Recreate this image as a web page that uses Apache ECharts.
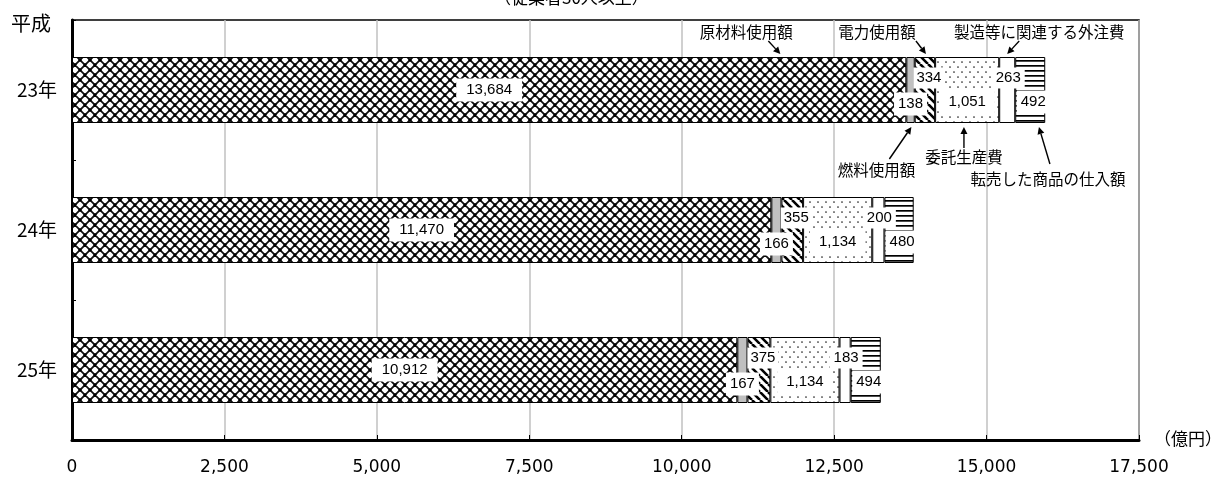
<!DOCTYPE html>
<html><head><meta charset="utf-8">
<script src="https://cdn.jsdelivr.net/npm/echarts@6.0.0/dist/echarts.min.js"></script>
<style>html,body{margin:0;padding:0;background:#fff}#c{width:1220px;height:478px}</style>
</head><body><div id="c"></div>
<script>
// ---- data ----
const categories = ['23年', '24年', '25年'];
const seriesNames = ['原材料使用額', '燃料使用額', '電力使用額', '委託生産費', '製造等に関連する外注費', '転売した商品の仕入額'];
const rawMaterial = [13684, 11470, 10912];
const fuel = [138, 166, 167];
const electricity = [334, 355, 375];
const outsourcedProduction = [1051, 1134, 1134];
const subcontract = [263, 200, 183];
const resale = [492, 480, 494];
const xTickLabels = ['0', '2,500', '5,000', '7,500', '10,000', '12,500', '15,000', '17,500'];
const seriesValues = [rawMaterial, fuel, electricity, outsourcedProduction, subcontract, resale];

// ---- patterns ----
function tile(w, h, draw) {
  const c = document.createElement('canvas');
  c.width = w; c.height = h;
  const g = c.getContext('2d');
  g.fillStyle = '#fff'; g.fillRect(0, 0, w, h);
  draw(g, w, h);
  return c;
}
const crossHatch = tile(10, 10, (g, w, h) => {
  g.strokeStyle = '#111'; g.lineWidth = 1.8;
  g.beginPath();
  for (let k = -1; k <= 1; k++) {
    g.moveTo(k * w, 0); g.lineTo(k * w + w, h);
    g.moveTo(k * w + w, 0); g.lineTo(k * w, h);
  }
  g.stroke();
  g.fillStyle = '#000';
  [[0,0],[10,0],[0,10],[10,10],[5,5]].forEach(p => { g.beginPath(); g.arc(p[0], p[1], 1.7, 0, Math.PI*2); g.fill(); });
});
const stripes = tile(8, 8, (g, w, h) => {
  g.strokeStyle = '#000'; g.lineWidth = 2.6;
  g.beginPath();
  for (let k = -1; k <= 1; k++) { g.moveTo(k * w, 0); g.lineTo(k * w + w, h); }
  g.stroke();
});
const dots = tile(8, 10, (g) => {
  g.fillStyle = '#222';
  [[2,2],[6,7]].forEach(p => { g.beginPath(); g.arc(p[0], p[1], 0.85, 0, Math.PI*2); g.fill(); });
});
const hLines = tile(4, 5, (g) => { g.fillStyle = '#000'; g.fillRect(0, 0, 4, 1.7); });

const fills = [
  { image: crossHatch, repeat: 'repeat' },
  '#c0c0c0',
  { image: stripes, repeat: 'repeat' },
  { image: dots, repeat: 'repeat' },
  '#ffffff',
  { image: hLines, repeat: 'repeat' }
];
const labelOffsets = [[0, 0], [0, 14], [4, -12], [0, 12], [1, -12], [3, 12]];
const labelPadding = [[4, 10], [4, 4], [3, 3], [4, 9], [3, 4], [4, 4]];

const numFont = 'Liberation Sans';
const jpFont = '"Noto Sans CJK JP"';

const series = [];
seriesNames.forEach((name, i) => {
  series.push({
    name, type: 'bar', stack: 'total', barWidth: 66, barGap: '-100%',
    data: seriesValues[i],
    itemStyle: { color: fills[i], borderColor: '#000', borderWidth: 1 },
    silent: true, z: 2
  });
});
seriesNames.forEach((name, i) => {
  series.push({
    name: name + '_label', type: 'bar', stack: 'labels', barWidth: 66, barGap: '-100%',
    data: seriesValues[i],
    itemStyle: { color: 'rgba(0,0,0,0)', borderWidth: 0 },
    silent: true, z: 10,
    label: {
      show: true, position: 'inside', offset: labelOffsets[i],
      backgroundColor: '#fff', padding: labelPadding[i],
      color: '#000', fontSize: 15, fontFamily: numFont,
      formatter: p => p.value.toLocaleString('en-US')
    }
  });
});

const chart = echarts.init(document.getElementById('c'), null, { renderer: 'canvas' });
chart.setOption({
  animation: false,
  backgroundColor: '#fff',
  grid: { left: 72, right: 81, top: 20, bottom: 38, show: true, borderColor: '#000', borderWidth: 1.5, backgroundColor: 'transparent' },
  xAxis: {
    type: 'value', min: 0, max: 17500, interval: 2500,
    axisLine: { show: true, lineStyle: { color: '#000', width: 3 } },
    axisTick: { show: true, inside: true, length: 5, lineStyle: { color: '#000', width: 1 } },
    splitLine: { show: true, lineStyle: { color: '#c0c0c0', width: 1.5 } },
    axisLabel: { fontSize: 17, fontFamily: 'DejaVu Sans', color: '#000', margin: 19,
      formatter: v => xTickLabels[Math.round(v / 2500)] }
  },
  yAxis: {
    type: 'category', inverse: true, data: categories,
    axisLine: { show: true, lineStyle: { color: '#000', width: 3 } },
    axisTick: { show: true, inside: true, length: 4, lineStyle: { color: '#000', width: 1 } },
    axisLabel: { fontSize: 19, fontFamily: jpFont, color: '#000', margin: 15 }
  },
  series
});

// ---- annotations anchored to the 23年 bar ----
const annotations = [
  { text: '原材料使用額', seg: 0, frac: 0.849, side: 'top', tail: [-12, -13], label: [-34, -22] },
  { text: '電力使用額', seg: 2, frac: 0.55, side: 'top', tail: [-10, -13], label: [-49, -22] },
  { text: '製造等に関連する外注費', seg: 4, frac: 0.5, side: 'top', tail: [12, -13], label: [32, -22] },
  { text: '燃料使用額', seg: 1, frac: 0.6, side: 'bottom', tail: [-22, 32], label: [-35, 43] },
  { text: '委託生産費', seg: 3, frac: 0.45, side: 'bottom', tail: [0, 21], label: [0, 30] },
  { text: '転売した商品の仕入額', seg: 5, frac: 0.79, side: 'bottom', tail: [11, 37], label: [9, 52] }
];
const cat = categories[0];
const graphics = [];
annotations.forEach(a => {
  let start = 0;
  for (let s = 0; s < a.seg; s++) start += seriesValues[s][0];
  const v = start + seriesValues[a.seg][0] * a.frac;
  const c = chart.convertToPixel({ gridIndex: 0 }, [v, cat]);
  const tip = [c[0], a.side === 'top' ? c[1] - 33 - 3 : c[1] + 33 + 4];
  const tail = [tip[0] + a.tail[0], tip[1] + a.tail[1]];
  const dx = tip[0] - tail[0], dy = tip[1] - tail[1];
  const len = Math.sqrt(dx * dx + dy * dy);
  const ux = dx / len, uy = dy / len;
  const hl = 7, hw = 3.5;
  const base = [tip[0] - ux * hl, tip[1] - uy * hl];
  graphics.push({ type: 'line', shape: { x1: tail[0], y1: tail[1], x2: base[0], y2: base[1] }, style: { stroke: '#000', lineWidth: 1.4 }, z: 100 });
  graphics.push({ type: 'polygon', shape: { points: [tip, [base[0] - uy * hw, base[1] + ux * hw], [base[0] + uy * hw, base[1] - ux * hw]] }, style: { fill: '#000' }, z: 100 });
  graphics.push({ type: 'text', x: tip[0] + a.label[0], y: tip[1] + a.label[1], style: { text: a.text, font: '15.5px ' + jpFont, fill: '#000', align: 'center', verticalAlign: 'middle' }, z: 100 });
});
graphics.push({ type: 'text', x: 494, y: -2, style: { text: '（従業者30人以上）', font: '17px ' + jpFont, fill: '#000', align: 'left', verticalAlign: 'middle' }, z: 100 });
graphics.push({ type: 'text', x: 11, y: 23.5, style: { text: '平成', font: '20px ' + jpFont, fill: '#000', align: 'left', verticalAlign: 'middle' }, z: 100 });
graphics.push({ type: 'text', x: 1154, y: 439, style: { text: '（億円）', font: '17px ' + jpFont, fill: '#000', align: 'left', verticalAlign: 'middle' }, z: 100 });
chart.setOption({ graphic: graphics });
</script>
</body></html>
